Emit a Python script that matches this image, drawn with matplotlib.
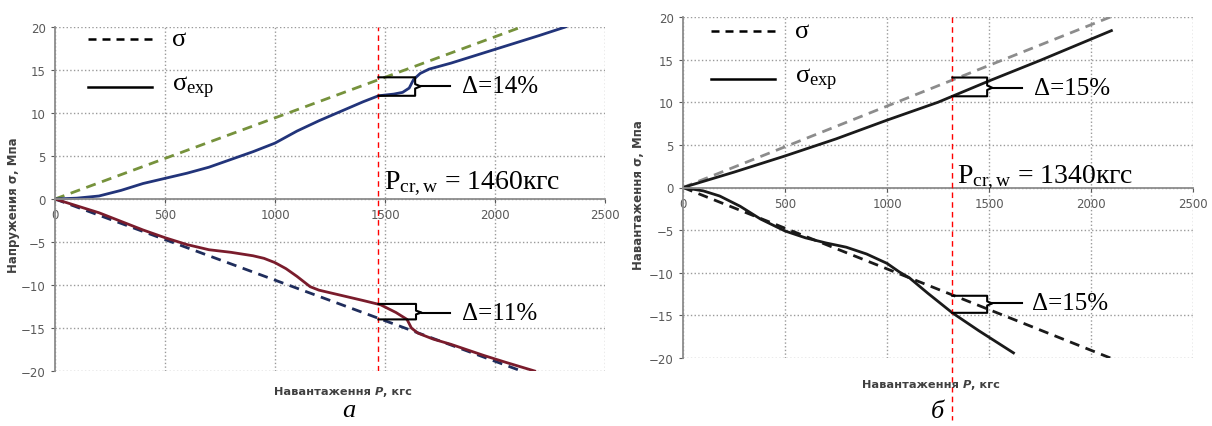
import matplotlib
matplotlib.use("Agg")
import matplotlib.pyplot as plt

plt.rcParams["mathtext.fontset"] = "custom"
plt.rcParams["mathtext.rm"] = "Liberation Serif"
plt.rcParams["mathtext.it"] = "Liberation Serif:italic"

# ---- panel a ----
a_theory_p = [0, 2120]
a_theory_up = [0, 20]
a_theory_dn = [0, -20]
a_exp_up_p = [0, 100, 200, 300, 400, 500, 600, 700, 800, 900, 1000, 1100, 1200, 1300, 1400,
              1470, 1540, 1580, 1610, 1630, 1660, 1700, 1800, 1900, 2000, 2100, 2200, 2320]
a_exp_up = [0, 0.1, 0.35, 1.0, 1.8, 2.4, 3.0, 3.7, 4.6, 5.5, 6.5, 7.9, 9.1, 10.2, 11.3,
            12.0, 12.2, 12.4, 12.9, 13.9, 14.6, 15.1, 15.8, 16.6, 17.4, 18.2, 19.0, 20.0]
a_exp_dn_p = [0, 100, 200, 300, 400, 500, 600, 700, 800, 900, 950, 1000, 1050, 1100, 1160, 1200,
              1300, 1400, 1480, 1550, 1600, 1620, 1650, 1720, 1800, 1950, 2050, 2180]
a_exp_dn = [0, -0.8, -1.6, -2.6, -3.6, -4.5, -5.3, -5.9, -6.2, -6.6, -6.9, -7.4, -8.1, -9.0, -10.2, -10.6,
            -11.2, -11.8, -12.3, -13.2, -14.0, -15.0, -15.6, -16.3, -16.9, -18.2, -19.0, -20.0]
a_pcr = 1470
a_pcr_label = "1460"
a_delta_up = "14%"
a_delta_dn = "11%"

# ---- panel b ----
b_theory_p = [0, 2095]
b_theory_up = [0, 20]
b_theory_dn = [0, -20]
b_exp_up_p = [0, 250, 500, 750, 1000, 1250, 1500, 1750, 2000, 2100]
b_exp_up = [0, 1.8, 3.7, 5.7, 7.9, 10.0, 12.5, 14.9, 17.4, 18.4]
b_exp_dn_p = [0, 100, 180, 280, 380, 500, 600, 700, 800, 900, 1000, 1060, 1110, 1200, 1320, 1450, 1620]
b_exp_dn = [0, -0.4, -1.0, -2.2, -3.7, -5.1, -5.9, -6.5, -7.0, -7.8, -8.9, -9.9, -10.6, -12.4, -14.7, -16.8, -19.4]
b_pcr = 1320
b_pcr_label = "1340"
b_delta_up = "15%"
b_delta_dn = "15%"

W, H = 1212, 427
fig = plt.figure(figsize=(W / 100, H / 100), dpi=100, facecolor="white")

tick_color = "#595959"
grid_color = "#9a9a9a"
label_color = "#404040"
serif = "Liberation Serif"


def px_axes(x0, y0, x1, y1):
    return fig.add_axes([x0 / W, 1 - y1 / H, (x1 - x0) / W, (y1 - y0) / H])


def setup(ax):
    ax.set_xlim(0, 2500)
    ax.set_ylim(-20, 20)
    ax.set_xticks(range(0, 2501, 500))
    ax.set_yticks(range(-20, 21, 5))
    ax.spines["top"].set_visible(False)
    ax.spines["right"].set_visible(False)
    ax.spines["bottom"].set_position(("data", 0))
    for s in ("left", "bottom"):
        ax.spines[s].set_color("#8c8c8c")
        ax.spines[s].set_linewidth(1.3)
    ax.grid(True, color=grid_color, linestyle=":", linewidth=1.0)
    ax.set_axisbelow(True)
    ax.tick_params(colors=tick_color, labelsize=8.5, length=3, width=0.8)
    ax.set_facecolor("white")


def bracket(ax, xl, xb, xe, top, bot, mid):
    k = (top - bot) * 0.12
    ax.plot([xl, xb, xb, xb + 25, xb, xb, xl],
            [top, top, mid + k, mid, mid - k, bot, bot], color="black", lw=1.5, zorder=5)
    ax.plot([xb + 25, xe], [mid, mid], color="black", lw=1.5, zorder=5)


def legend_items(ax, x0, x1, xt, y1, y2):
    ax.plot([x0, x1], [y1, y1], color="black", lw=1.8, ls=(0, (3.2, 2.4)))
    ax.plot([x0, x1], [y2, y2], color="black", lw=1.8)
    ax.text(xt, y1, "σ", fontsize=19, family=serif, va="center", ha="left")
    ax.text(xt, y2, r"σ$_{\mathrm{exp}}$", fontsize=19, family=serif, va="center", ha="left")


def xlabel(x_left, y):
    # "Навантаження P, кгс" with an italic P, chained piece by piece
    t1 = fig.text(x_left / W, 1 - y / H, "Навантаження ", fontsize=8.2, weight="bold",
                  color=label_color, ha="left", va="center")
    p = plt.annotate("P", xy=(1, 0), xycoords=t1, va="bottom", fontsize=8.2,
                     weight="bold", style="italic", color=label_color)
    plt.annotate(", кгс", xy=(1, 0), xycoords=p, va="bottom", fontsize=8.2,
                 weight="bold", color=label_color)


# panel a
ax1 = px_axes(55, 28, 605, 372)
setup(ax1)
ax1.plot(a_theory_p, a_theory_up, color="#76923c", lw=2.0, ls=(0, (3.6, 2.4)))
ax1.plot(a_theory_p, a_theory_dn, color="#1f2d5c", lw=2.0, ls=(0, (3.6, 2.4)))
ax1.plot(a_exp_up_p, a_exp_up, color="#22347a", lw=2.0)
ax1.plot(a_exp_dn_p, a_exp_dn, color="#7a1c2c", lw=2.0)
ax1.axvline(a_pcr, color="red", lw=1.0, ls=(0, (4, 3)), zorder=4)
legend_items(ax1, 150, 440, 530, 18.6, 13.0)
ax1.text(a_pcr + 25, 1.2, r"P$_{\mathrm{cr,w}}$ = " + a_pcr_label + "кгс", fontsize=20,
         family=serif, ha="left", va="baseline")
bracket(ax1, a_pcr, 1637, 1797, 14.15, 12.0, 13.1)
ax1.text(1850, 13.1, "Δ=" + a_delta_up, fontsize=18, family=serif, va="center")
bracket(ax1, a_pcr, 1641, 1797, -12.2, -14.0, -13.2)
ax1.text(1850, -13.2, "Δ=" + a_delta_dn, fontsize=18, family=serif, va="center")
fig.text(14 / W, 1 - 205 / H, "Напружения σ, Мпа", rotation=90, fontsize=8.5, weight="bold",
         color=label_color, ha="center", va="center")

# panel b
ax2 = px_axes(683, 18, 1193, 359)
setup(ax2)
ax2.plot(b_theory_p, b_theory_up, color="#8c8c8c", lw=2.0, ls=(0, (3.6, 2.4)))
ax2.plot(b_theory_p, b_theory_dn, color="#1a1a1a", lw=2.0, ls=(0, (3.6, 2.4)))
ax2.plot(b_exp_up_p, b_exp_up, color="#1a1a1a", lw=2.0)
ax2.plot(b_exp_dn_p, b_exp_dn, color="#1a1a1a", lw=2.0)
ax2.plot([b_pcr, b_pcr], [20, -27.3], color="red", lw=1.0, ls=(0, (4, 3)), zorder=4, clip_on=False)
legend_items(ax2, 135, 450, 550, 18.3, 12.7)
ax2.text(b_pcr + 25, 0.6, r"P$_{\mathrm{cr,w}}$ = " + b_pcr_label + "кгс", fontsize=20,
         family=serif, ha="left", va="baseline")
bracket(ax2, b_pcr, 1491, 1660, 12.9, 10.7, 11.7)
ax2.text(1720, 11.7, "Δ=" + b_delta_up, fontsize=18, family=serif, va="center")
bracket(ax2, b_pcr, 1491, 1660, -12.7, -14.7, -13.6)
ax2.text(1710, -13.6, "Δ=" + b_delta_dn, fontsize=18, family=serif, va="center")
fig.text(638 / W, 1 - 195 / H, "Навантаження σ, Мпа", rotation=90, fontsize=8.5, weight="bold",
         color=label_color, ha="center", va="center")

# x labels
xlabel(274, 392)
xlabel(862, 385)

# subtitles
fig.text(349 / W, 1 - 411 / H, "а", fontsize=19, family=serif, style="italic", ha="center", va="center")
fig.text(937 / W, 1 - 412 / H, "б", fontsize=19, family=serif, style="italic", ha="center", va="center")

fig.savefig("out.png", dpi=100, facecolor="white")
